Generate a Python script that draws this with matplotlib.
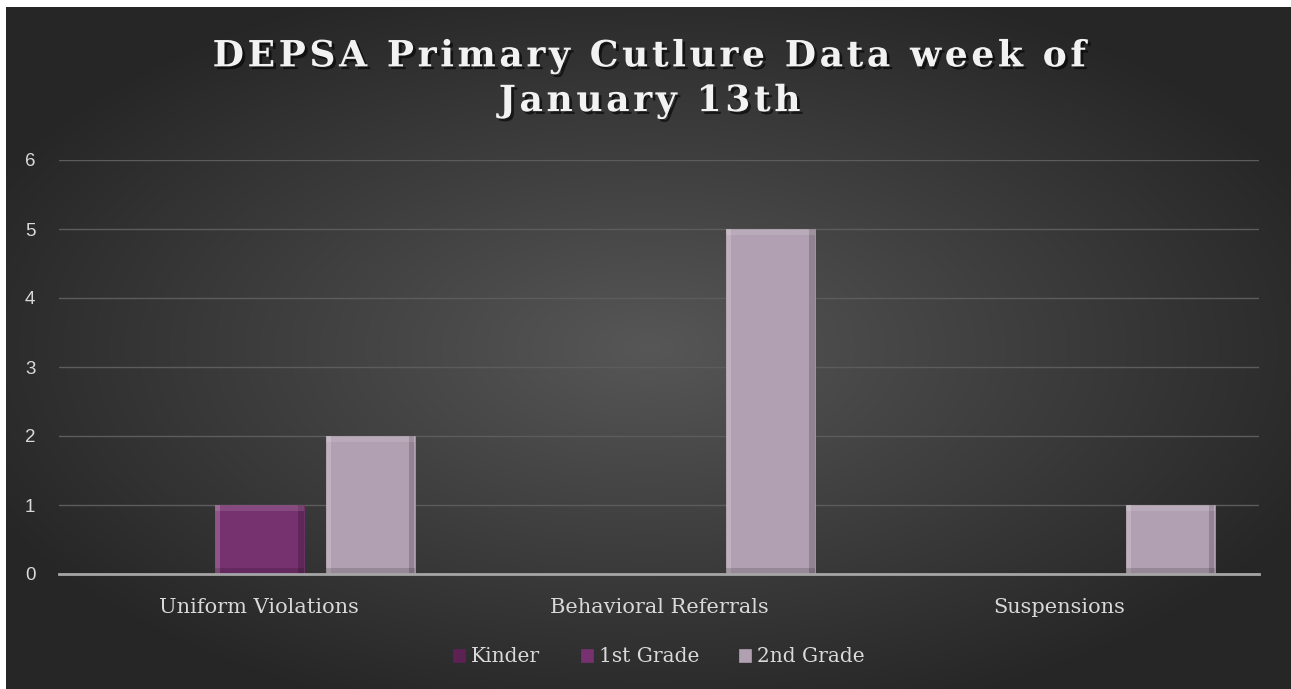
import matplotlib.pyplot as plt
import matplotlib.patheffects as pe
import numpy as np

# chart data
categories = ["Uniform Violations", "Behavioral Referrals", "Suspensions"]
series_names = ["Kinder", "1st Grade", "2nd Grade"]
kinder = [0, 0, 0]
first_grade = [1, 0, 0]
second_grade = [2, 5, 1]
y_ticks = [0, 1, 2, 3, 4, 5, 6]
title_lines = ["DEPSA Primary Cutlure Data week of", "January 13th"]

colors = ["#5c2253", "#76316f", "#b1a0b1"]
values = [kinder, first_grade, second_grade]

W, H = 1291, 689
fig = plt.figure(figsize=(W / 100, H / 100), dpi=100)
fig.patch.set_facecolor("white")

# dark radial gradient background
bg = fig.add_axes([6 / W, 0, 1 - 6 / W, 1 - 7 / H])
yy, xx = np.mgrid[0:1:300j, 0:1:600j]
r = np.sqrt(((xx - 0.5) / 0.75) ** 2 + ((yy - 0.5) / 0.75) ** 2)
shade = np.clip(0.34 - 0.25 * r, 0.15, 0.35)
bg.imshow(np.dstack([shade] * 3), aspect="auto", extent=[0, 1, 0, 1])
bg.set_axis_off()

ax = fig.add_axes([59 / W, 1 - 574 / H, 1200 / W, 414 / H])
ax.set_facecolor("none")

x = np.arange(len(categories))
bw = 0.2225
step = 0.2775
for i, (vals, col, name) in enumerate(zip(values, colors, series_names)):
    bars = ax.bar(x + (i - 1) * step, vals, width=bw, color=col,
                  edgecolor=col, linewidth=0.5, label=name, zorder=3)
    # simple bevel look on each bar
    for b in bars:
        h = b.get_height()
        if h <= 0:
            continue
        x0, w = b.get_x(), b.get_width()
        ax.add_patch(plt.Rectangle((x0, 0), w * 0.06, h, color="white",
                                   alpha=0.18, lw=0, zorder=4))
        ax.add_patch(plt.Rectangle((x0 + w * 0.94, 0), w * 0.06, h,
                                   color="black", alpha=0.18, lw=0, zorder=4))
        ax.add_patch(plt.Rectangle((x0, h - 0.08), w, 0.08, color="white",
                                   alpha=0.12, lw=0, zorder=4))
        ax.add_patch(plt.Rectangle((x0, 0), w, 0.08, color="black",
                                   alpha=0.15, lw=0, zorder=4))

ax.set_xlim(-0.5, 2.5)
ax.set_ylim(0, 6)
ax.set_yticks(y_ticks)
ax.set_yticklabels([str(t) for t in y_ticks], fontsize=13.5,
                   family="Liberation Sans", color="#d9d9d9")
ax.set_xticks(x)
ax.set_xticklabels(categories, fontsize=15, family="DejaVu Serif",
                   color="#d9d9d9")
ax.tick_params(length=0, pad=17, axis="x")
ax.tick_params(length=0, pad=17, axis="y")
ax.grid(axis="y", color="#5c5c5c", linewidth=1, zorder=0)
for s in ["top", "right", "left"]:
    ax.spines[s].set_visible(False)
ax.spines["bottom"].set_color("#a6a6a6")
ax.spines["bottom"].set_linewidth(2)
ax.spines["bottom"].set_zorder(5)

leg = ax.legend(loc="center", bbox_to_anchor=(0.5, (574 - 657) / 414),
                ncol=3, frameon=False, handlelength=0.6, handleheight=0.6,
                handletextpad=0.3, columnspacing=2.0,
                prop={"family": "DejaVu Serif", "size": 14.5})
for t in leg.get_texts():
    t.set_color("#d9d9d9")

# title with widened letter spacing (hair spaces)
spaced = "\n".join("\u200a".join(line) for line in title_lines)
fig.text(650 / W, 1 - 79 / H, spaced,
         ha="center", va="center", fontsize=26, fontweight="bold",
         family="DejaVu Serif", color="#f2f2f2", linespacing=1.38,
         path_effects=[pe.withSimplePatchShadow(offset=(2, -2),
                                                shadow_rgbFace="black",
                                                alpha=0.6)])

fig.savefig("out.png", dpi=100, facecolor=fig.get_facecolor())
